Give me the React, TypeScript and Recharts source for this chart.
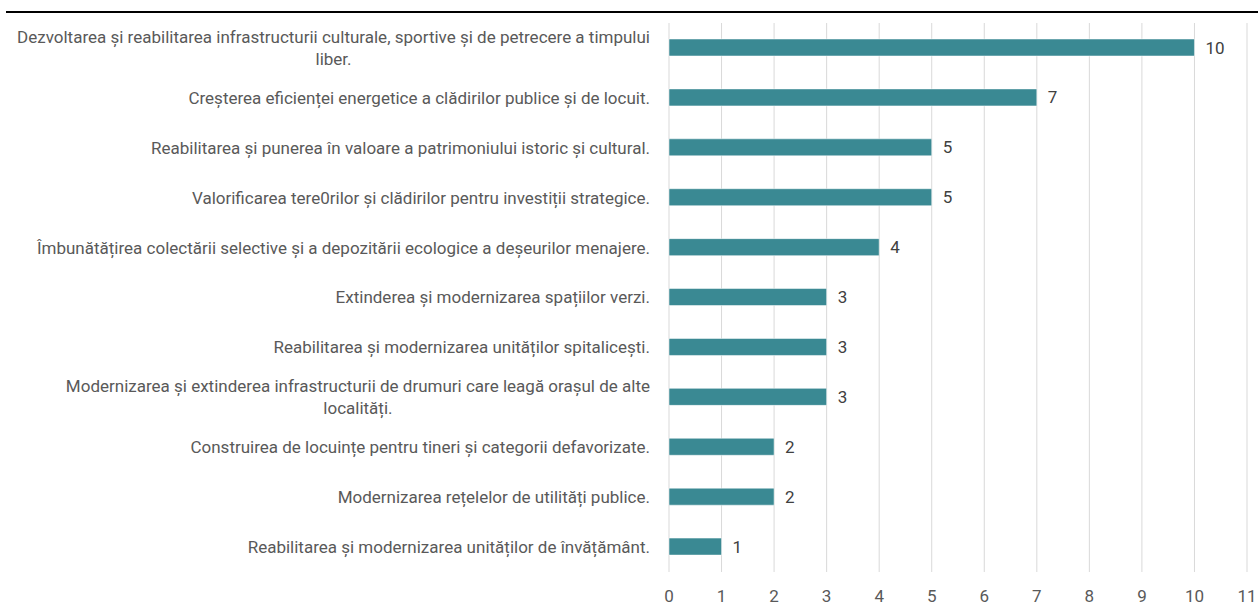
import React from "react";
import { Bar, BarChart, CartesianGrid, LabelList, XAxis, YAxis } from "recharts";

const categories = [
  "Dezvoltarea și reabilitarea infrastructurii culturale, sportive și de petrecere a timpului liber.",
  "Creșterea eficienței energetice a clădirilor publice și de locuit.",
  "Reabilitarea și punerea în valoare a patrimoniului istoric și cultural.",
  "Valorificarea tere0rilor și clădirilor pentru investiții strategice.",
  "Îmbunătățirea colectării selective și a depozitării ecologice a deșeurilor menajere.",
  "Extinderea și modernizarea spațiilor verzi.",
  "Reabilitarea și modernizarea unităților spitalicești.",
  "Modernizarea și extinderea infrastructurii de drumuri care leagă orașul de alte localități.",
  "Construirea de locuințe pentru tineri și categorii defavorizate.",
  "Modernizarea rețelelor de utilități publice.",
  "Reabilitarea și modernizarea unităților de învățământ.",
];
const counts = [10, 7, 5, 5, 4, 3, 3, 3, 2, 2, 1];
const xTicks = [0, 1, 2, 3, 4, 5, 6, 7, 8, 9, 10, 11];

const data = categories.map((name, i) => ({ name, value: counts[i] }));

const FONT = "Roboto, 'Liberation Sans', sans-serif";
const FS = 17;

const wrap = (text: string, max = 90) => {
  const lines: string[] = [];
  let cur = "";
  text.split(" ").forEach((w) => {
    const next = cur ? cur + " " + w : w;
    if (next.length > max && cur) {
      lines.push(cur);
      cur = w;
    } else cur = next;
  });
  if (cur) lines.push(cur);
  return lines;
};

let ctx: CanvasRenderingContext2D | null = null;
const measure = (s: string) => {
  if (!ctx) ctx = document.createElement("canvas").getContext("2d");
  if (!ctx) return s.length * FS * 0.45;
  ctx.font = `${FS}px ${FONT}`;
  return ctx.measureText(s).width;
};

const CategoryTick = ({ y, payload }: any) => {
  const lines = wrap(String(payload.value));
  const lh = 22;
  const start = y - ((lines.length - 1) * lh) / 2;
  const right = 650;
  // wrapped labels are centred on their widest line
  const multi = lines.length > 1;
  const w = multi ? Math.max(...lines.map(measure)) : 0;
  const tx = multi ? right - w / 2 : right;
  return (
    <text x={tx} textAnchor={multi ? "middle" : "end"} fill="#595959" fontSize={FS} fontFamily={FONT}>
      {lines.map((l, i) => (
        <tspan key={i} x={tx} y={start + i * lh} dy="0.35em">
          {l}
        </tspan>
      ))}
    </text>
  );
};

const ValueTick = ({ x, payload }: any) => (
  <text x={x} y={596} dy="0.35em" textAnchor="middle" fill="#595959" fontSize={FS} fontFamily={FONT}>
    {payload.value}
  </text>
);

export default function App() {
  return (
    <div style={{ position: "absolute", left: 0, top: 0, width: 1258, height: 613, background: "#fff" }}>
      <div style={{ position: "absolute", left: 6, right: 0, top: 11, height: 2, background: "#000" }} />
      <BarChart
        width={1258}
        height={613}
        data={data}
        layout="vertical"
        margin={{ top: 23, right: 11, bottom: 11, left: 0 }}
        barCategoryGap={0}
      >
        <CartesianGrid horizontal={false} stroke="#d9d9d9" />
        <XAxis
          type="number"
          domain={[0, 11]}
          ticks={xTicks}
          axisLine={false}
          tickLine={false}
          height={30}
          tick={<ValueTick />}
          interval={0}
        />
        <YAxis
          type="category"
          dataKey="name"
          width={669}
          axisLine={false}
          tickLine={false}
          tick={<CategoryTick />}
          interval={0}
        />
        <Bar dataKey="value" fill="#3A8993" stroke="#ffffff" strokeOpacity={0.5} barSize={17} isAnimationActive={false}>
          <LabelList dataKey="value" position="right" offset={11} fill="#404040" fontSize={FS} fontFamily={FONT} />
        </Bar>
      </BarChart>
    </div>
  );
}
